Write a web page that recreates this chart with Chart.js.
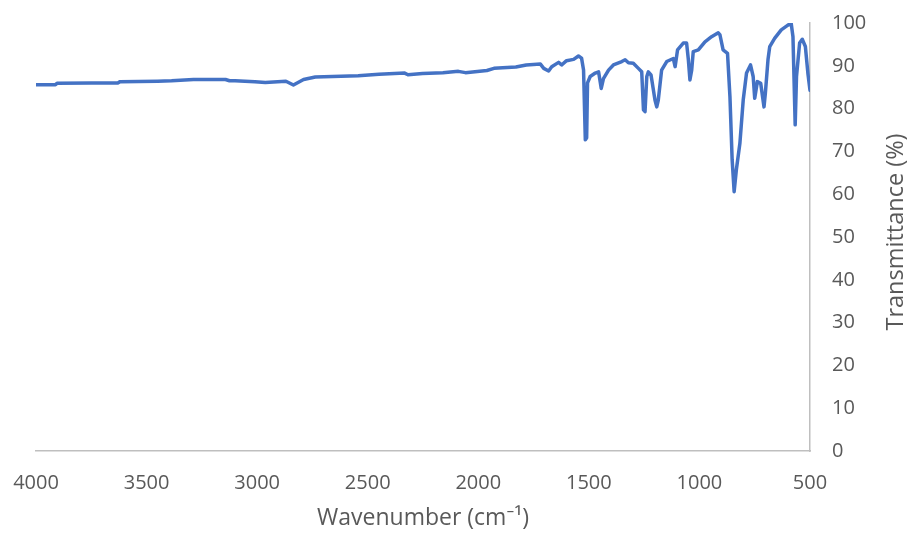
<!DOCTYPE html>
<html>
<head>
<meta charset="utf-8">
<script src="https://cdn.jsdelivr.net/npm/chart.js@4.4.1/dist/chart.umd.min.js"></script>
<style>
  html, body { margin: 0; padding: 0; background: #ffffff; }
  #wrap { width: 911px; height: 535px; position: relative; }
</style>
</head>
<body>
<div id="wrap"><canvas id="ir"></canvas></div>
<script>
// FTIR spectrum: wavenumber (cm-1) against transmittance (%)
const wavenumbers = [
  4000, 3912, 3905, 3750, 3630, 3620, 3450, 3387, 3288, 3143,
  3125, 3100, 3010, 2963, 2870, 2836, 2790, 2737, 2543, 2449,
  2333, 2318, 2252, 2160, 2090, 2058, 1961, 1929, 1830, 1783,
  1719, 1704, 1682, 1668, 1637, 1623, 1601, 1569, 1547, 1533,
  1524, 1516, 1510, 1506, 1494, 1471, 1456, 1444, 1434, 1411,
  1389, 1351, 1336, 1321, 1299, 1276, 1261, 1253, 1246, 1238,
  1231, 1219, 1201, 1193, 1186, 1171, 1148, 1118, 1110, 1099,
  1073, 1058, 1050, 1043, 1035, 1028, 1005, 975, 945, 915,
  907, 893, 873, 862, 852, 843, 833, 817, 802, 787,
  769, 757, 750, 738, 723, 708, 702, 690, 682, 660,
  630, 600, 585, 577, 567, 561, 547, 535, 521, 509,
  500
];
const transmittance = [
  85.6, 85.6, 85.9, 86.0, 86.0, 86.3, 86.4, 86.5, 86.8, 86.8,
  86.5, 86.5, 86.3, 86.1, 86.4, 85.5, 86.8, 87.4, 87.7, 88.0,
  88.3, 87.9, 88.2, 88.4, 88.7, 88.4, 88.9, 89.4, 89.7, 90.2,
  90.4, 89.4, 88.8, 89.8, 90.8, 90.2, 91.2, 91.5, 92.3, 91.8,
  89.0, 72.7, 73.2, 86.0, 87.5, 88.3, 88.6, 84.7, 87.0, 89.0,
  90.2, 91.0, 91.4, 90.7, 90.6, 89.4, 88.6, 79.7, 79.3, 87.5,
  88.6, 87.9, 82.0, 80.4, 82.0, 89.0, 91.0, 91.7, 89.8, 93.7,
  95.3, 95.3, 91.4, 86.7, 89.0, 93.3, 93.7, 95.6, 96.8, 97.7,
  97.2, 93.7, 92.9, 82.8, 68.0, 60.6, 65.7, 71.9, 82.0, 88.3,
  90.2, 87.5, 82.4, 86.3, 85.9, 80.4, 83.5, 91.4, 94.5, 96.4,
  98.4, 99.5, 99.9, 96.8, 76.2, 87.5, 95.3, 96.2, 94.5, 88.0,
  84.3
];
const xTicks = [4000, 3500, 3000, 2500, 2000, 1500, 1000, 500];
const yTicks = [0, 10, 20, 30, 40, 50, 60, 70, 80, 90, 100];

const xTitle = 'Wavenumber (cm\u207B\u00B9)';
const yTitle = 'Transmittance (%)';

const textColor = '#595959';
const axisColor = '#BFBFBF';
const fontFamily = '"Open Sans", "Noto Sans", sans-serif';

// Right-hand axis title, reading bottom to top
const yTitlePlugin = {
  id: 'yTitle',
  afterDraw(chart) {
    const { ctx, chartArea } = chart;
    ctx.save();
    ctx.fillStyle = textColor;
    ctx.font = '23.5px ' + fontFamily;
    ctx.textAlign = 'center';
    ctx.textBaseline = 'middle';
    ctx.translate(896, (chartArea.top + chartArea.bottom) / 2 - 5);
    ctx.rotate(-Math.PI / 2);
    ctx.fillText(yTitle, 0, 0);
    ctx.restore();
  }
};

const points = wavenumbers.map((w, i) => ({ x: w, y: transmittance[i] }));

new Chart(document.getElementById('ir'), {
  type: 'line',
  data: {
    datasets: [{
      data: points,
      borderColor: '#4472C4',
      borderWidth: 3.5,
      pointRadius: 0,
      tension: 0,
      fill: false,
      borderJoinStyle: 'round',
      borderCapStyle: 'round'
    }]
  },
  options: {
    responsive: true,
    maintainAspectRatio: false,
    animation: false,
    layout: { padding: { left: 36, right: 0, top: 23, bottom: 0 } },
    plugins: {
      legend: { display: false },
      tooltip: { enabled: false }
    },
    scales: {
      x: {
        type: 'linear',
        reverse: true,
        min: 500,
        max: 4000,
        afterBuildTicks(scale) { scale.ticks = xTicks.map(v => ({ value: v })); },
        afterFit(scale) {
          scale.height = 84;
          scale.paddingLeft = 0;
          scale.paddingRight = 0;
        },
        grid: { display: false },
        border: { display: true, color: axisColor, width: 1.5 },
        ticks: {
          color: textColor,
          font: { family: fontFamily, size: 20 },
          padding: 12,
          maxRotation: 0,
          autoSkip: false,
          callback: v => String(v)
        },
        title: {
          display: true,
          text: xTitle,
          color: textColor,
          font: { family: fontFamily, size: 23 },
          padding: { top: 0, bottom: 3 }
        }
      },
      y: {
        type: 'linear',
        position: 'right',
        min: 0,
        max: 100,
        afterBuildTicks(scale) { scale.ticks = yTicks.map(v => ({ value: v })); },
        afterFit(scale) {
          scale.width = 101;
          scale.paddingTop = 0;
          scale.paddingBottom = 0;
        },
        grid: { display: false },
        border: { display: true, color: axisColor, width: 1.5 },
        ticks: {
          color: textColor,
          font: { family: fontFamily, size: 20 },
          padding: 14,
          callback: v => String(v)
        }
      }
    }
  },
  plugins: [yTitlePlugin]
});
</script>
</body>
</html>
